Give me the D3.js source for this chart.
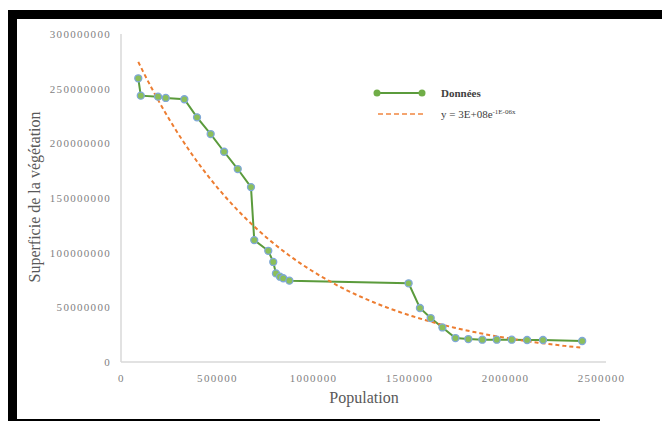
<!DOCTYPE html>
<html>
<head>
<meta charset="utf-8">
<script src="https://cdn.jsdelivr.net/npm/d3@7/dist/d3.min.js"></script>
<style>
  body { margin: 0; background: #fff; }
  svg { display: block; }
  .tick text { font-family: "Liberation Serif", "DejaVu Serif", serif; fill: #7f7f7f; letter-spacing: 1.3px; }
</style>
</head>
<body>
<div id="chart"></div>
<script>
// population (x) and vegetation area (y)
var population = [90000, 103000, 193000, 233000, 330000, 396000, 467000, 537000, 608000, 677000,
                  694000, 767000, 793000, 807000, 828000, 845000, 877000, 1498000, 1557000, 1613000,
                  1674000, 1742000, 1809000, 1882000, 1957000, 2035000, 2115000, 2198000, 2402000];
var vegetation = [259500000, 243600000, 242700000, 241500000, 240300000, 223800000, 208500000, 192300000, 176500000, 160000000,
                  111500000, 101700000, 91500000, 81000000, 78000000, 76600000, 74400000, 72000000, 49400000, 40200000,
                  31600000, 21900000, 21000000, 20400000, 20400000, 20400000, 20100000, 20100000, 19200000];
var xTicks = [0, 500000, 1000000, 1500000, 2000000, 2500000];
var yTicks = [0, 50000000, 100000000, 150000000, 200000000, 250000000, 300000000];
var legendLabels = ["Données", "y = 3E+08e", "-1E-06x"];

var svgWidth = 662, svgHeight = 421;
var margin = {top: 34, right: 56, bottom: 59, left: 121};
var width = 606 - margin.left;
var height = svgHeight - margin.top - margin.bottom;

var svg = d3.select("#chart").append("svg")
    .attr("width", svgWidth)
    .attr("height", svgHeight);

// black frame
svg.append("rect").attr("x", 8).attr("y", 10).attr("width", 654).attr("height", 9).attr("fill", "#000");
svg.append("rect").attr("x", 8).attr("y", 10).attr("width", 9).attr("height", 411).attr("fill", "#000");
svg.append("rect").attr("x", 8).attr("y", 419).attr("width", 592).attr("height", 2).attr("fill", "#000");

var g = svg.append("g").attr("transform", `translate(${margin.left}, ${margin.top})`);

var x = d3.scaleLinear().domain([0, 2500000]).range([0, 480]);
var y = d3.scaleLinear().domain([0, 300000000]).range([height, 0]);

// axes
var xAxis = g.append("g")
    .attr("transform", `translate(0, ${height})`)
    .call(d3.axisBottom(x).tickValues(xTicks).tickFormat(d3.format("d")).tickSize(0).tickPadding(12));
xAxis.select(".domain").remove();
xAxis.selectAll("text").attr("font-size", "11px");
g.append("line").attr("x1", 0).attr("x2", width).attr("y1", height).attr("y2", height)
    .attr("stroke", "#d9d9d9").attr("stroke-width", 1.5);

var yAxis = g.append("g")
    .call(d3.axisLeft(y).tickValues(yTicks).tickFormat(d3.format("d")).tickSize(0).tickPadding(10));
yAxis.select(".domain").remove();
yAxis.selectAll("text").attr("font-size", "11px");
g.append("line").attr("x1", 0).attr("x2", 0).attr("y1", 0).attr("y2", height)
    .attr("stroke", "#d9d9d9").attr("stroke-width", 1.5);

// data
var data = population.map(function(p, i) { return {x: p, y: vegetation[i]}; });

// exponential trend line (least squares on ln y, like the spreadsheet does)
var n = data.length;
var mx = d3.mean(data, d => d.x);
var ml = d3.mean(data, d => Math.log(d.y));
var sxy = d3.sum(data, d => (d.x - mx) * (Math.log(d.y) - ml));
var sxx = d3.sum(data, d => (d.x - mx) * (d.x - mx));
var b = sxy / sxx;
var a = Math.exp(ml - b * mx);
var trendX = d3.range(101).map(i => population[0] + (population[n - 1] - population[0]) * i / 100);

var line = d3.line().x(d => x(d.x)).y(d => y(d.y));

g.append("path")
    .datum(data)
    .attr("d", line)
    .attr("fill", "none")
    .attr("stroke", "#5b9b3c")
    .attr("stroke-width", 2);

g.append("path")
    .datum(trendX.map(v => ({x: v, y: a * Math.exp(b * v)})))
    .attr("d", line)
    .attr("fill", "none")
    .attr("stroke", "#ed7d31")
    .attr("stroke-width", 2)
    .attr("stroke-dasharray", "4,3");

g.selectAll("circle.pt")
    .data(data)
    .enter()
    .append("circle")
    .attr("class", "pt")
    .attr("cx", d => x(d.x))
    .attr("cy", d => y(d.y))
    .attr("r", 3.5)
    .attr("fill", "#8cbf5a")
    .attr("stroke", "#7fa8d8")
    .attr("stroke-width", 1.3);

// axis titles
svg.append("text")
    .attr("x", 364).attr("y", 403)
    .attr("text-anchor", "middle")
    .attr("font-family", "Liberation Serif, DejaVu Serif, serif")
    .attr("font-size", "16px")
    .attr("fill", "#595959")
    .text("Population");

svg.append("text")
    .attr("transform", "translate(40, 197) rotate(-90)")
    .attr("text-anchor", "middle")
    .attr("font-family", "Liberation Serif, DejaVu Serif, serif")
    .attr("font-size", "16px")
    .attr("fill", "#595959")
    .text("Superficie de la végétation");

// legend
var leg = svg.append("g").attr("font-family", "Liberation Serif, DejaVu Serif, serif").attr("fill", "#404040");
leg.append("line").attr("x1", 377).attr("x2", 422).attr("y1", 93).attr("y2", 93)
    .attr("stroke", "#5b9b3c").attr("stroke-width", 2);
leg.append("circle").attr("cx", 377).attr("cy", 93).attr("r", 3.5).attr("fill", "#70ad47");
leg.append("circle").attr("cx", 422).attr("cy", 93).attr("r", 3.5).attr("fill", "#70ad47");
leg.append("text").attr("x", 441).attr("y", 96.5).attr("font-size", "11px").attr("font-weight", "bold")
    .text(legendLabels[0]);
leg.append("line").attr("x1", 378).attr("x2", 423).attr("y1", 114).attr("y2", 114)
    .attr("stroke", "#f4a46f").attr("stroke-width", 2).attr("stroke-dasharray", "5,3");
var eq = leg.append("text").attr("x", 441).attr("y", 118).attr("font-size", "11px");
eq.append("tspan").text(legendLabels[1]);
eq.append("tspan").attr("dy", -4).attr("font-size", "7px").text(legendLabels[2]);
</script>
</body>
</html>
